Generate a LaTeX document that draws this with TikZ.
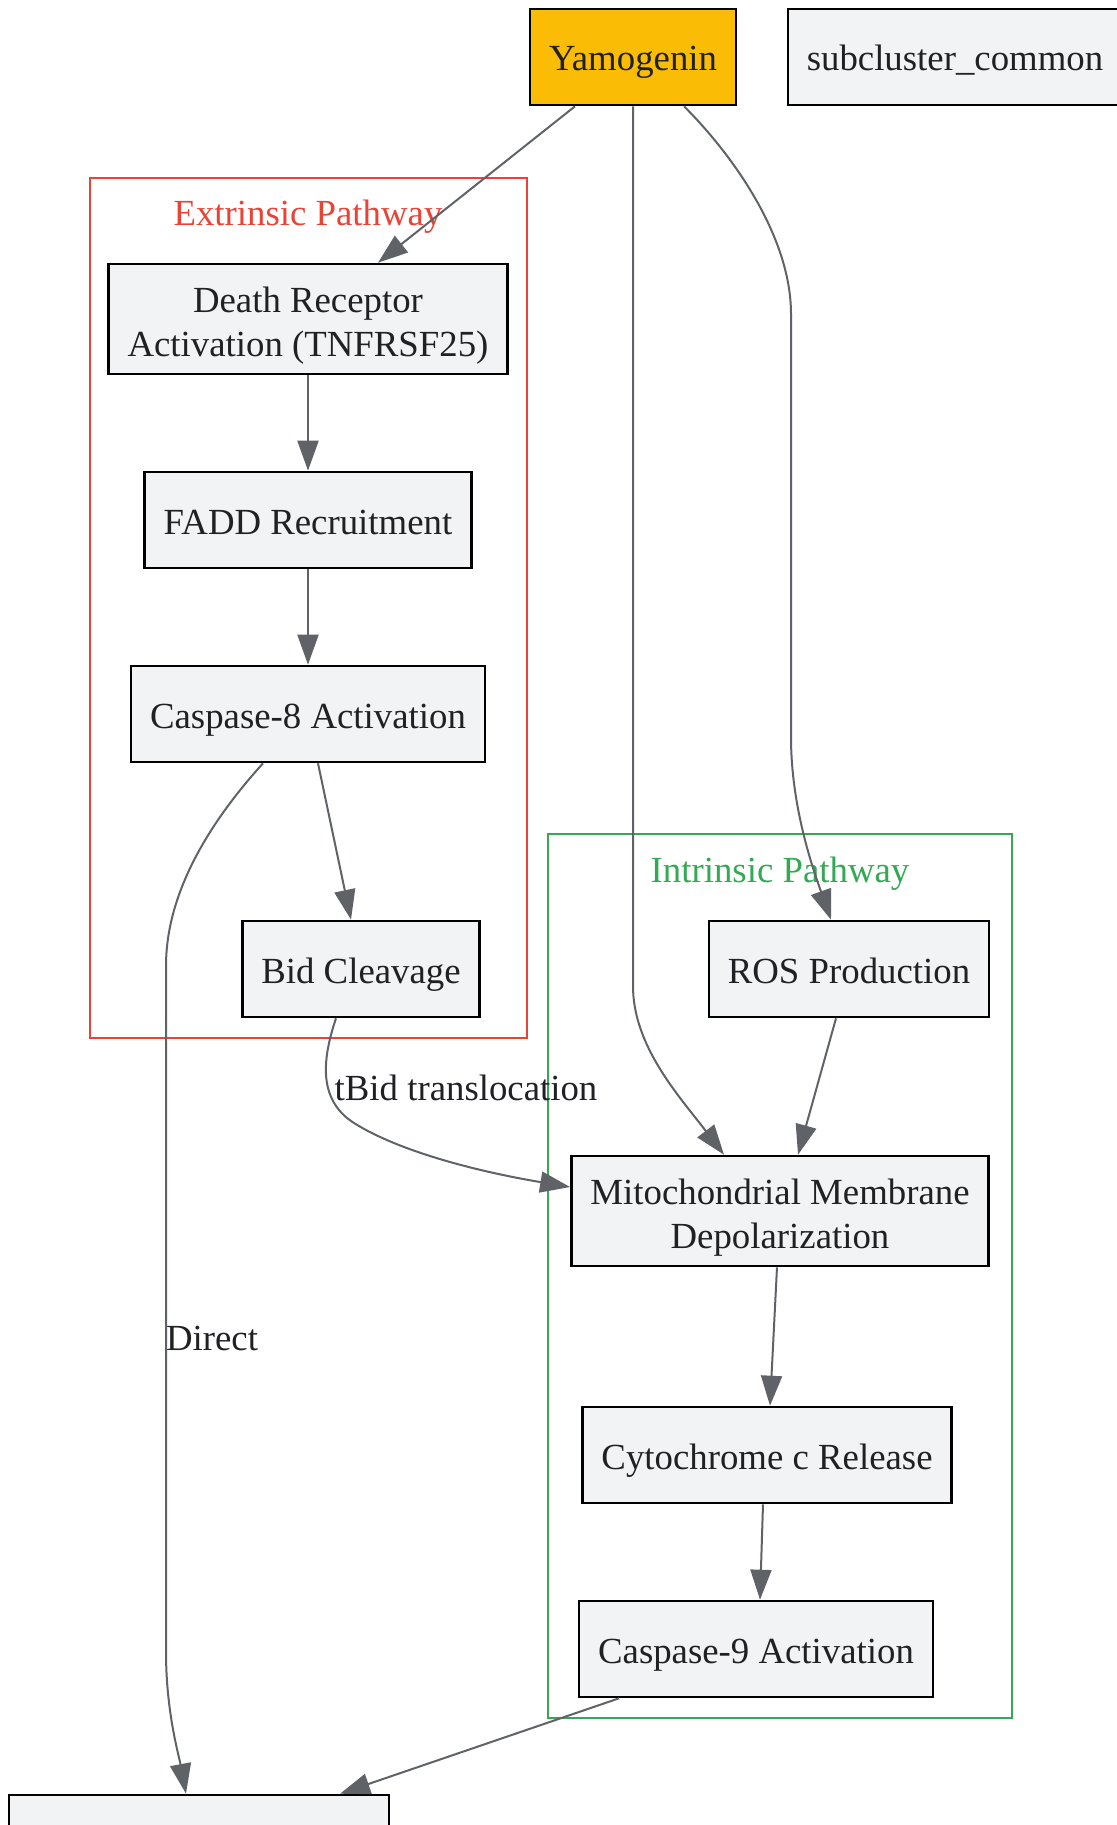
\documentclass[tikz,border=0pt]{standalone}
\usepackage{fontspec}
\setmainfont{Liberation Serif}
\usetikzlibrary{arrows.meta}
\definecolor{nodefill}{HTML}{F1F3F4}
\definecolor{edgegray}{HTML}{5F6368}
\definecolor{textdark}{HTML}{202124}
\definecolor{yamfill}{HTML}{FBBC05}
\definecolor{extred}{HTML}{EA4335}
\definecolor{intgreen}{HTML}{34A853}

\begin{document}
\begin{tikzpicture}[x=1pt, y=-1pt]
\tikzset{ >={Triangle[length=30pt, width=21pt]},
  every node/.style={font=\fontsize{36.8pt}{44pt}\selectfont, text=textdark},
  box/.style={draw=black, line width=2.6pt, fill=nodefill, inner xsep=19pt, inner ysep=0pt,
              minimum height=96pt, align=center, text height=30pt, text depth=2pt},
  twoline/.style={minimum height=110pt, text height=75pt, text depth=1pt},
  edge/.style={->, draw=edgegray, line width=2pt},
  cluster/.style={line width=2pt},
}

\useasboundingbox (0,0) rectangle (1116,1825);

\draw [cluster, extred]   (90,178)  rectangle (527,1038);
\draw [cluster, intgreen] (548,834) rectangle (1012,1718);

\node [text=extred]   (extlabel) at (308,217) {Extrinsic Pathway};
\node [text=intgreen] (intlabel) at (780,874) {Intrinsic Pathway};

\node [box, fill=yamfill] (yam) at (633,57) {Yamogenin};
\node [box] (sub)  at (955,57)   {subcluster\_common};

\node [box, twoline] (dr) at (308,319) {Death Receptor\\Activation (TNFRSF25)};
\node [box] (fadd) at (308,520)  {FADD Recruitment};
\node [box] (c8)   at (308,714)  {Caspase-8 Activation};
\node [box] (bid)  at (361,969)  {Bid Cleavage};

\node [box] (ros)  at (849,969)  {ROS Production};
\node [box, twoline] (mito) at (780,1211) {Mitochondrial Membrane\\Depolarization};
\node [box] (cyto) at (767,1455) {Cytochrome c Release};
\node [box] (c9)   at (756,1649) {Caspase-9 Activation};

\node [box, minimum width=380pt] (apo) at (199,1843) {};

\draw [edge] ([xshift=-58pt]yam.south) -- ([xshift=70pt]dr.north);
\draw [edge] (yam.south) -- (633,986) .. controls (633,1046) and (679,1096) .. ([xshift=-56pt]mito.north);
\draw [edge] ([xshift=51pt]yam.south) .. controls (729,151) and (791,234) .. (791,314)
             -- (791,737) .. controls (791,807) and (813,869) .. ([xshift=-18pt]ros.north);

\draw [edge] (dr.south) -- (fadd.north);
\draw [edge] (fadd.south) -- (c8.north);
\draw [edge] ([xshift=10pt]c8.south) -- ([xshift=-10pt]bid.north);
\draw [edge] ([xshift=-45pt]c8.south) .. controls (218,813) and (166,886) .. (166,966)
             -- (166,1652) .. controls (166,1712) and (179,1756) .. ([xshift=-13pt]apo.north);
\node (lbldirect) at (212,1338) {Direct};

\draw [edge] ([xshift=-25pt]bid.south) .. controls (322,1060) and (318,1100) .. (354,1123)
             .. controls (400,1152) and (480,1172) .. ([yshift=24pt]mito.west);
\node (lbltbid) at (466,1088) {tBid translocation};

\draw [edge] ([xshift=-13pt]ros.south) -- ([xshift=18pt]mito.north);
\draw [edge] ([xshift=-3pt]mito.south) -- ([xshift=3pt]cyto.north);
\draw [edge] ([xshift=-4pt]cyto.south) -- ([xshift=4pt]c9.north);
\draw [edge] ([xshift=-137pt]c9.south) -- ([xshift=141pt]apo.north);
\end{tikzpicture}
\end{document}
